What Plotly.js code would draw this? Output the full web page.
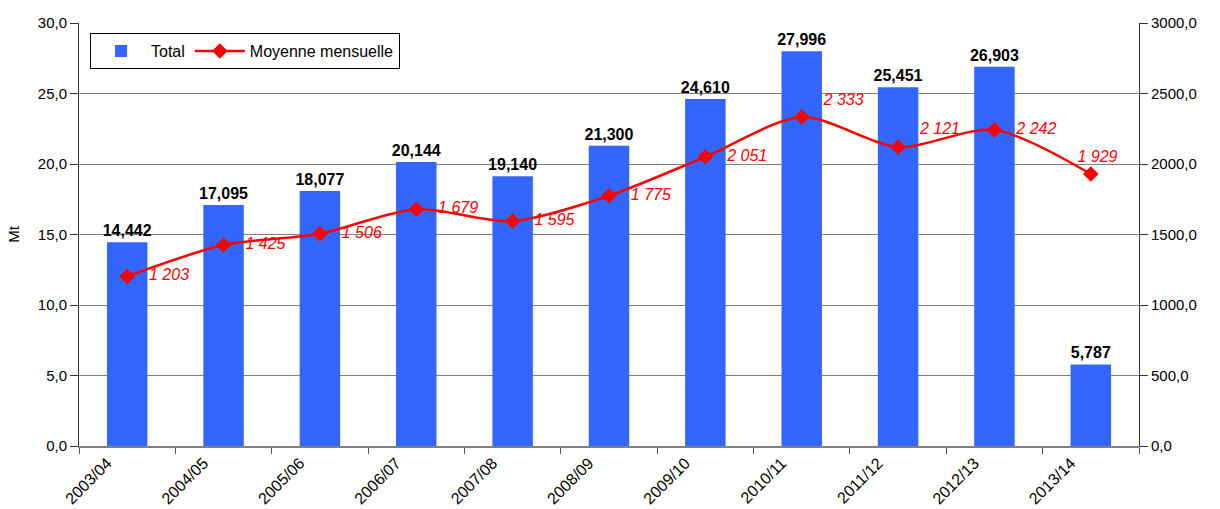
<!DOCTYPE html>
<html>
<head>
<meta charset="utf-8">
<script src="https://cdn.plot.ly/plotly-3.0.1.min.js"></script>
<style>html,body{margin:0;padding:0;background:#fff;}#chart{width:1220px;height:509px;}</style>
</head>
<body>
<div id="chart"></div>
<script>
const categories = ["2003/04","2004/05","2005/06","2006/07","2007/08","2008/09","2009/10","2010/11","2011/12","2012/13","2013/14"];
const totalMt = [14.442, 17.095, 18.077, 20.144, 19.140, 21.300, 24.610, 27.996, 25.451, 26.903, 5.787];
const monthlyAvg = [1203, 1425, 1506, 1679, 1595, 1775, 2051, 2333, 2121, 2242, 1929];
const leftTicks = [0, 5, 10, 15, 20, 25, 30];
const rightTicks = [0, 500, 1000, 1500, 2000, 2500, 3000];

const lineLabelPos = ["middle right","middle right","middle right","middle right","middle right","middle right","middle right","top right","top right","middle right","top center"];

const font = "Liberation Sans, Arial, sans-serif";
const NB = "\u00a0";

const traces = [
  {
    type: "bar", name: "Total", x: categories, y: totalMt,
    marker: {color: "#3366FF"}, width: 0.42,
    texttemplate: "<b>%{y:.3f}</b>", textposition: "outside", cliponaxis: false,
    constraintext: "none",
    textfont: {family: font, size: 16, color: "#000"},
    hoverinfo: "x+y"
  },
  {
    type: "scatter", mode: "lines+markers+text", name: "Moyenne mensuelle",
    x: categories, y: monthlyAvg, yaxis: "y2",
    line: {color: "#FF0000", width: 2.5, shape: "spline", smoothing: 0.8},
    marker: {symbol: "diamond", size: 12, color: "#FF0000"},
    texttemplate: NB + NB + NB + "<i>%{y:,.0f}</i>", textposition: lineLabelPos, cliponaxis: false,
    textfont: {family: font, size: 16, color: "#FF0000"}
  }
];

const layout = {
  width: 1220, height: 509,
  margin: {l: 79, r: 81, t: 23, b: 63},
  paper_bgcolor: "#fff", plot_bgcolor: "#fff",
  separators: ", ",
  font: {family: font, size: 15, color: "#000"},
  showlegend: true,
  legend: {
    x: 0.0104, y: 0.976, xanchor: "left", yanchor: "top",
    orientation: "h", bordercolor: "#000", borderwidth: 1, bgcolor: "#fff",
    font: {family: font, size: 16, color: "#000"}, traceorder: "normal",
    itemwidth: 50
  },
  xaxis: {
    type: "category", range: [-0.5, 10.5], tickson: "boundaries", ticks: "outside", ticklen: 6,
    tickcolor: "#555", showline: true, linecolor: "#808080", linewidth: 1.5,
    showgrid: false, tickangle: -45, ticklabelshift: -20, automargin: false,
    tickfont: {family: font, size: 16, color: "#000"}
  },
  yaxis: {
    range: [0, 30], tickvals: leftTicks, tickformat: ".1f", automargin: false,
    showgrid: true, gridcolor: "#808080", gridwidth: 1,
    showline: true, linecolor: "#333", linewidth: 1,
    ticks: "outside", ticklen: 8, tickcolor: "#333",
    zeroline: false,
    title: {text: "Mt", font: {family: font, size: 15}, standoff: 14},
    tickfont: {family: font, size: 15}
  },
  yaxis2: {
    range: [0, 3000], tickvals: rightTicks, tickformat: ".1f", automargin: false,
    overlaying: "y", side: "right", showgrid: false,
    showline: true, linecolor: "#333", linewidth: 1,
    ticks: "outside", ticklen: 8, tickcolor: "#333", zeroline: false,
    tickfont: {family: font, size: 15}
  }
};

Plotly.newPlot("chart", traces, layout, {displayModeBar: false, staticPlot: true});
</script>
</body>
</html>
